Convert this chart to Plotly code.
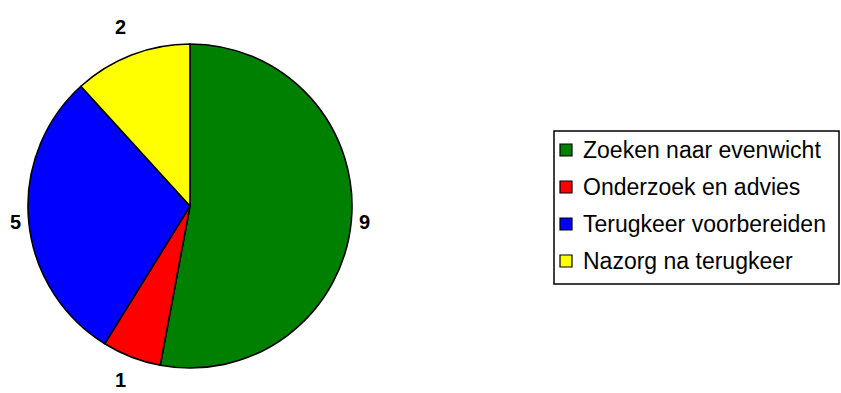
import math
import plotly.graph_objects as go

labels = ["Zoeken naar evenwicht", "Onderzoek en advies", "Terugkeer voorbereiden", "Nazorg na terugkeer"]
values = [9, 1, 5, 2]
colors = ["#008000", "#ff0000", "#0000ff", "#ffff00"]

W, H = 841, 393
cx, cy, r = 190, 206, 162


def px(x):
    return x / W


def py(y):
    return 1 - y / H


fig = go.Figure(go.Pie(
    labels=labels,
    values=values,
    sort=False,
    direction="clockwise",
    rotation=0,
    marker=dict(colors=colors, line=dict(color="black", width=1.6)),
    textinfo="none",
    domain=dict(x=[px(cx - r), px(cx + r)], y=[py(cy + r), py(cy - r)]),
    automargin=False,
    showlegend=False,
    hoverinfo="label+value",
))

# value labels outside the slices, positioned from the slice mid-angles
total = sum(values)
cum = 0
annotations = []
for v in values:
    mid = (cum + v / 2) / total * 2 * math.pi  # clockwise from 12 o'clock
    cum += v
    gap = 13 + 19 * math.cos(mid) ** 2
    R = r + gap
    lx = cx + R * math.sin(mid)
    ly = min(cy - R * math.cos(mid), H - 13)
    annotations.append(dict(
        x=px(lx), y=py(ly), xref="paper", yref="paper",
        text=f"<b>{v}</b>", showarrow=False, xanchor="center", yanchor="middle",
        font=dict(family="Liberation Sans", size=20, color="black"),
    ))

# legend box
box_l, box_t, box_r, box_b = 554, 131, 839, 284
row0, row_step = 150, 37
shapes = [dict(type="rect", xref="paper", yref="paper",
               x0=px(box_l), x1=px(box_r), y0=py(box_b), y1=py(box_t),
               line=dict(color="black", width=1.5), fillcolor="white", layer="below")]
for i, (lab, col) in enumerate(zip(labels, colors)):
    yc = row0 + i * row_step
    shapes.append(dict(type="rect", xref="paper", yref="paper",
                       x0=px(560), x1=px(572), y0=py(yc + 6), y1=py(yc - 6),
                       line=dict(color="black", width=1.2), fillcolor=col))
    annotations.append(dict(
        x=px(581), y=py(yc), xref="paper", yref="paper", text=lab,
        showarrow=False, xanchor="left", yanchor="middle",
        font=dict(family="Liberation Sans", size=23, color="black"),
    ))

fig.update_layout(
    width=W, height=H,
    margin=dict(l=0, r=0, t=0, b=0),
    paper_bgcolor="white",
    plot_bgcolor="white",
    showlegend=False,
    shapes=shapes,
    annotations=annotations,
)

fig.write_html("out.html",
               config={"displayModeBar": False},
               post_script="document.body.style.margin='0';document.body.style.overflow='hidden';")
